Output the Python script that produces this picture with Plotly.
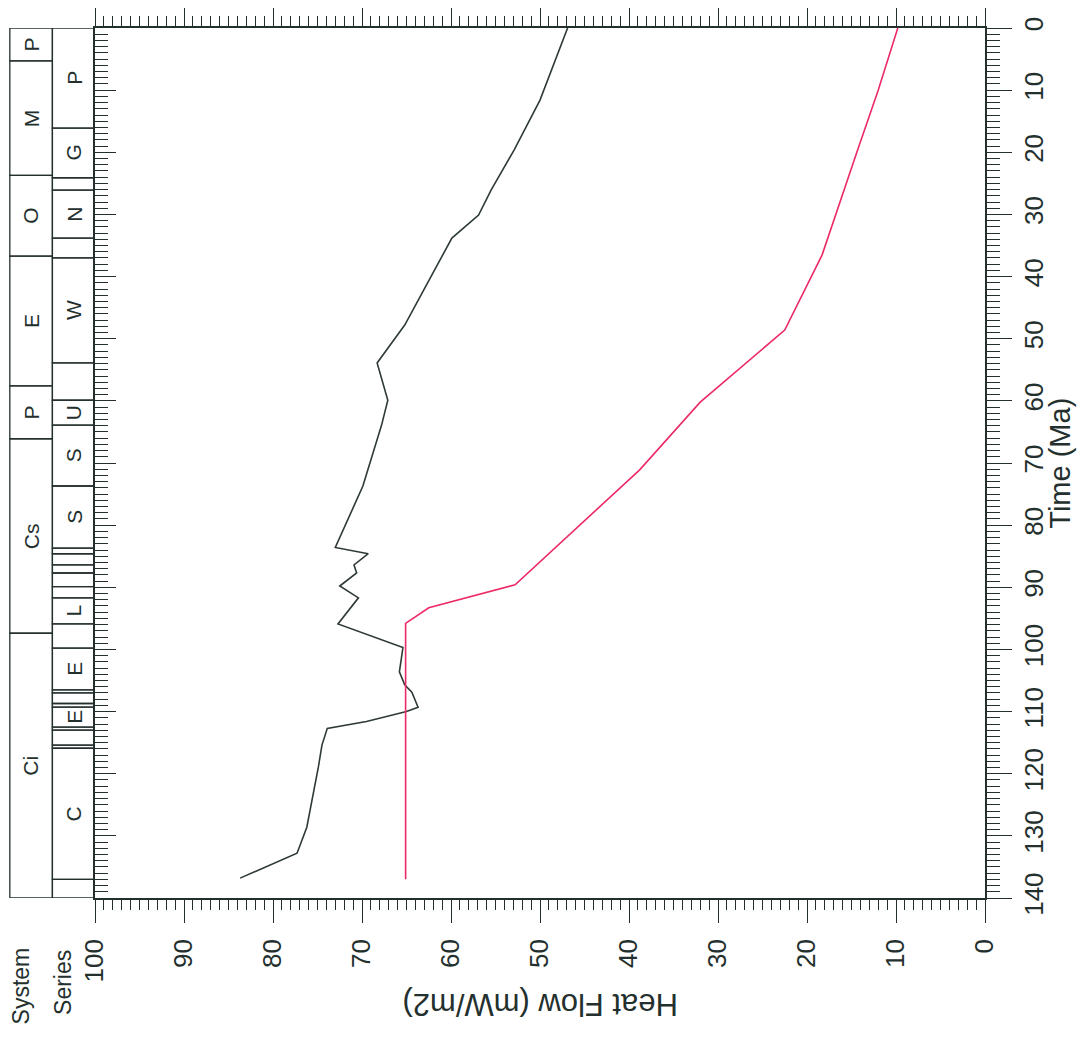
import plotly.graph_objects as go

# ---- data ----
heat_ticks = list(range(0, 101, 10))
time_ticks = list(range(0, 141, 10))

black_time = [0, 11.6, 19.6, 26.1, 30.1, 33.8, 47.8, 53.9, 59.9, 63.9, 73.7, 83.6,
              84.6, 86.4, 87.7, 89.8, 91.7, 95.9, 99.7, 103.6, 105.7, 106.9, 109.3,
              110.0, 111.6, 112.7, 115.4, 118.9, 128.6, 132.8, 136.8]
black_hf = [46.9, 50.0, 52.9, 55.5, 56.9, 59.9, 65.2, 68.3, 67.1, 67.8, 69.9, 73.0,
            69.3, 70.9, 70.6, 72.5, 70.4, 72.7, 65.4, 65.8, 65.2, 64.4, 63.7,
            65.0, 69.5, 73.9, 74.5, 74.9, 76.2, 77.3, 83.7]

red_time = [0, 10, 20, 36.5, 48.6, 60.2, 71.1, 89.6, 93.3, 95.8, 137.0]
red_hf = [9.8, 12.0, 14.4, 18.3, 22.5, 32.0, 38.8, 52.8, 62.5, 65.1, 65.1]

system_names = ["P", "M", "O", "E", "P", "Cs", "Ci"]
system_bounds = [0, 5.3, 23.7, 36.7, 57.6, 66.1, 97.4, 140]

series_names = ["P", "G", "", "N", "", "W", "", "U", "S", "S", "", "", "", "", "",
                "L", "", "E", "", "", "", "E", "", "", "", "C", ""]
series_bounds = [0, 16.1, 24.1, 26.1, 33.8, 37.0, 53.9, 59.9, 63.9, 73.7, 83.7, 84.6,
                 86.4, 87.7, 89.9, 91.7, 95.9, 99.8, 106.5, 107.0, 108.7, 109.3,
                 112.5, 113.0, 115.4, 115.9, 137.0, 140]

# ---- style ----
INK = "#24302e"
BLACK_LINE = "#2e3a36"
RED_LINE = "#ec2a66"
FONT = "Liberation Sans"

fig = go.Figure()

fig.add_trace(go.Scatter(x=black_hf, y=black_time, mode="lines",
                         line=dict(color=BLACK_LINE, width=1.6), showlegend=False))
fig.add_trace(go.Scatter(x=red_hf, y=red_time, mode="lines",
                         line=dict(color=RED_LINE, width=1.6), showlegend=False))
# helper traces for extra axes
fig.add_trace(go.Scatter(x=[None], y=[None], xaxis="x", yaxis="y2", showlegend=False))
fig.add_trace(go.Scatter(x=[None], y=[None], xaxis="x3", yaxis="y", showlegend=False))

shapes = []
annotations = []
for i, name in enumerate(system_names):
    y0, y1 = system_bounds[i], system_bounds[i + 1]
    shapes.append(dict(type="rect", xref="x3", yref="y", x0=0, x1=1, y0=y0, y1=y1,
                       line=dict(color=INK, width=1.3)))
    annotations.append(dict(xref="x3", yref="y", x=0.5, y=(y0 + y1) / 2, text=name,
                            textangle=-90, showarrow=False,
                            xanchor="center", yanchor="middle",
                            font=dict(family=FONT, size=21, color=INK)))
for i, name in enumerate(series_names):
    y0, y1 = series_bounds[i], series_bounds[i + 1]
    shapes.append(dict(type="rect", xref="x3", yref="y", x0=1, x1=2, y0=y0, y1=y1,
                       line=dict(color=INK, width=1.3)))
    if name:
        annotations.append(dict(xref="x3", yref="y", x=1.5, y=(y0 + y1) / 2, text=name,
                                textangle=-90, showarrow=False,
                                xanchor="center", yanchor="middle",
                                font=dict(family=FONT, size=21, color=INK)))

annotations += [
    dict(xref="paper", yref="paper", x=0.5445, y=-0.123, text="Heat Flow (mW/m2)",
         textangle=180, showarrow=False, xanchor="center", yanchor="middle",
         font=dict(family=FONT, size=31, color=INK)),
    dict(xref="paper", yref="paper", x=1.0765, y=0.5, text="Time (Ma)",
         textangle=-90, showarrow=False, xanchor="center", yanchor="middle",
         font=dict(family=FONT, size=29, color=INK)),
    dict(xref="paper", yref="paper", x=0.0143, y=-0.054, text="System",
         textangle=-90, showarrow=False, xanchor="center", yanchor="top",
         font=dict(family=FONT, size=23, color=INK)),
    dict(xref="paper", yref="paper", x=0.0563, y=-0.058, text="Series",
         textangle=-90, showarrow=False, xanchor="center", yanchor="top",
         font=dict(family=FONT, size=23, color=INK)),
]

tickfont = dict(family=FONT, size=26, color=INK)

fig.update_layout(
    width=1084, height=1029,
    margin=dict(l=0, r=107, t=20, b=139, autoexpand=False),
    paper_bgcolor="white", plot_bgcolor="white",
    shapes=shapes, annotations=annotations,
    xaxis=dict(domain=[0.08905, 1], range=[100, 0], tickvals=heat_ticks,
               ticks="outside", ticklen=23, tickwidth=1.3, tickcolor=INK,
               tickangle=-90, tickfont=tickfont, showline=True, linecolor=INK,
               linewidth=1.5, mirror="ticks", showgrid=False, zeroline=False,
               automargin=False, ticklabelstandoff=6,
               minor=dict(dtick=1, ticks="outside", ticklen=10, tickwidth=1.1,
                          tickcolor=INK, showgrid=False),
               anchor="y"),
    yaxis=dict(range=[140, 0], tickvals=time_ticks, side="right", anchor="x",
               ticks="outside", ticklen=25, tickwidth=1.3, tickcolor=INK,
               tickangle=-90, tickfont=tickfont, showline=True, linecolor=INK,
               linewidth=1.5, showgrid=False, zeroline=False, automargin=False,
               minor=dict(dtick=1, ticks="outside", ticklen=13, tickwidth=1.1,
                          tickcolor=INK, showgrid=False)),
    yaxis2=dict(range=[140, 0], overlaying="y", side="left", anchor="x",
                tickvals=time_ticks, ticks="inside", ticklen=21, tickwidth=1.3,
                tickcolor=INK, showticklabels=False, showline=True, linecolor=INK,
                linewidth=1.5, showgrid=False, zeroline=False, automargin=False,
                minor=dict(dtick=1, ticks="inside", ticklen=13, tickwidth=1.1,
                           tickcolor=INK, showgrid=False)),
    xaxis3=dict(domain=[0.001, 0.089], range=[-0.02, 2], anchor="y", visible=False,
                fixedrange=True, automargin=False),
)

fig.write_html("out.html")
